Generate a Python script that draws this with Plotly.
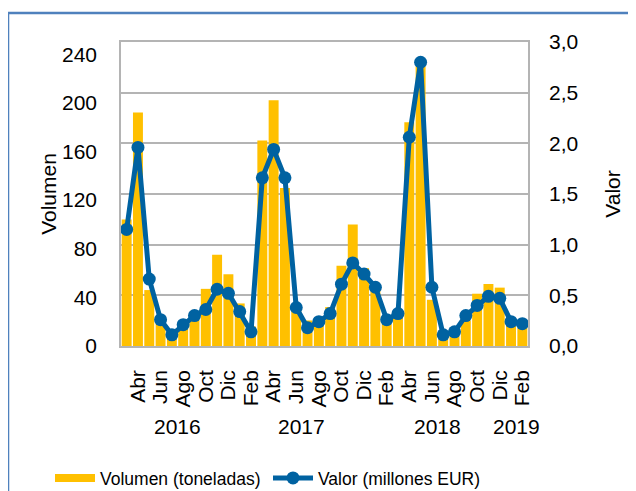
import plotly.graph_objects as go

# Meses de marzo 2016 a febrero 2019
meses = ["Mar", "Abr", "May", "Jun", "Jul", "Ago", "Sep", "Oct", "Nov", "Dic",
         "Ene", "Feb", "Mar", "Abr", "May", "Jun", "Jul", "Ago", "Sep", "Oct", "Nov", "Dic",
         "Ene", "Feb", "Mar", "Abr", "May", "Jun", "Jul", "Ago", "Sep", "Oct", "Nov", "Dic",
         "Ene", "Feb"]
anos = [2016] * 10 + [2017] * 12 + [2018] * 12 + [2019] * 2

# Volumen (toneladas)
volumen = [104, 192, 46, 21, 11, 17, 28, 47, 75, 59, 35, 16,
           169, 202, 130, 30, 21, 23, 32, 66, 100, 64, 48, 21,
           27, 184, 230, 38, 10, 10, 21, 43, 51, 48, 21, 15]

# Valor (millones EUR)
valor = [1.15, 1.96, 0.66, 0.26, 0.11, 0.21, 0.30, 0.36, 0.56, 0.52, 0.34, 0.14,
         1.66, 1.94, 1.66, 0.38, 0.18, 0.24, 0.32, 0.61, 0.82, 0.71, 0.58, 0.26,
         0.32, 2.06, 2.80, 0.58, 0.11, 0.14, 0.30, 0.40, 0.49, 0.47, 0.24, 0.22]

# etiquetas visibles: uno de cada dos meses
meses_visibles = ["Abr", "Jun", "Ago", "Oct", "Dic", "Feb"]

idx = list(range(len(meses)))
tickvals = [i for i in idx if meses[i] in meses_visibles]
ticktext = [meses[i] for i in tickvals]

FONT = "Liberation Sans, Arial, sans-serif"
GRID = "#B4B4B4"
AMARILLO = "#FFC000"
AZUL = "#0062A1"

# la página html tiene 8px de margen en el body
W, H = 628, 483

fig = go.Figure()
fig.add_trace(go.Bar(
    x=idx, y=volumen, name="Volumen (toneladas)",
    marker=dict(color=AMARILLO, line=dict(width=0)),
    yaxis="y", showlegend=False,
))
# entrada de leyenda con un rectángulo ancho, como en Excel
fig.add_trace(go.Scatter(
    x=[None], y=[None], name="Volumen (toneladas)", mode="lines",
    line=dict(color=AMARILLO, width=8), legend="legend",
))
fig.add_trace(go.Scatter(
    x=idx, y=valor, name="Valor (millones EUR)",
    mode="lines+markers",
    line=dict(color=AZUL, width=5),
    marker=dict(color=AZUL, size=13),
    yaxis="y2", legend="legend2",
))

# etiquetas de año centradas en cada grupo
for ano in sorted(set(anos)):
    pos = [i for i in idx if anos[i] == ano]
    fig.add_annotation(
        x=sum(pos) / len(pos), y=-0.266, xref="x", yref="paper",
        text=str(ano), showarrow=False, yanchor="middle",
        font=dict(size=21, color="black", family=FONT),
    )

# marco del gráfico
fig.add_shape(type="rect", xref="paper", yref="paper",
              x0=-0.2776, x1=1.30, y0=-0.6, y1=1.0954,
              line=dict(color="#4F81BD", width=2.5), layer="above")

leyenda = dict(orientation="h", xref="container", yref="container",
               xanchor="left", yanchor="middle", y=1 - 470 / H,
               font=dict(size=17.5), itemwidth=40, bgcolor="rgba(0,0,0,0)")

fig.update_layout(
    width=W, height=H,
    margin=dict(l=113, r=108, t=34, b=145, autoexpand=False),
    paper_bgcolor="white", plot_bgcolor="white",
    separators=",.",
    bargap=0.12,
    font=dict(family=FONT, size=21, color="black"),
    showlegend=True,
    legend=dict(leyenda, x=42 / W),
    legend2=dict(leyenda, x=260 / W),
    xaxis=dict(
        range=[-0.5, len(meses) - 0.5],
        tickmode="array", tickvals=tickvals, ticktext=ticktext,
        tickangle=-90, showgrid=False, zeroline=False,
        showline=True, mirror=True, linecolor=GRID, linewidth=1.5,
        ticks="", ticklabelstandoff=14, automargin=False,
        tickfont=dict(size=21),
    ),
    yaxis=dict(
        title=dict(text="Volumen", font=dict(size=21), standoff=0),
        range=[0, 250], dtick=40, tick0=0,
        showgrid=False, zeroline=False,
        showline=True, mirror=True, linecolor=GRID, linewidth=1.5,
        ticks="", ticklabelstandoff=18, automargin=False,
        tickfont=dict(size=21),
    ),
    yaxis2=dict(
        title=dict(text="Valor", font=dict(size=21), standoff=28),
        overlaying="y", side="right",
        range=[0, 3], dtick=0.5, tickformat=".1f",
        showgrid=True, gridcolor=GRID, gridwidth=1.5,
        zeroline=False, showline=False,
        ticks="", ticklabelstandoff=20, automargin=False,
        tickfont=dict(size=21),
    ),
)

fig.write_html("out.html")
